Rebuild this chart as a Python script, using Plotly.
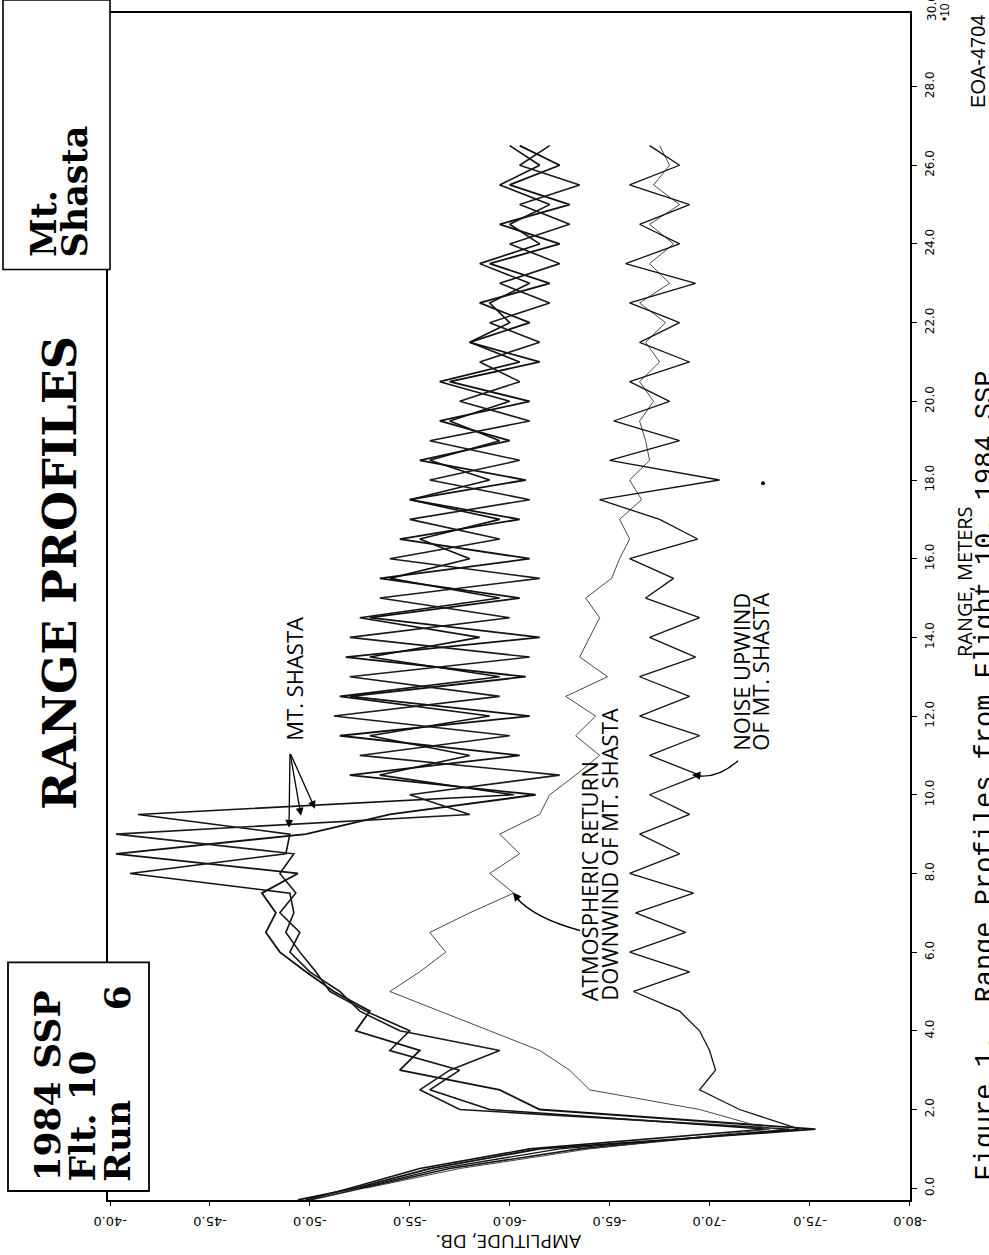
import plotly.graph_objects as go

# ---- data -------------------------------------------------------------
RANGE_M = [0.0, 0.5, 1.0, 1.5, 2.0, 2.5, 3.0, 3.5, 4.0, 4.5, 5.0, 5.5, 6.0, 6.5,
           7.0, 7.5, 8.0, 8.5, 9.0, 9.5, 10.0, 10.5, 11.0, 11.5, 12.0, 12.5, 13.0,
           13.5, 14.0, 14.5, 15.0, 15.5, 16.0, 16.5, 17.0, 17.5, 18.0, 18.5, 19.0,
           19.5, 20.0, 20.5, 21.0, 21.5, 22.0, 22.5, 23.0, 23.5, 24.0, 24.5, 25.0,
           25.5, 26.0, 26.5]
SHASTA_RANGE = [-0.3] + RANGE_M

shasta_a = [-49.4, -52.3, -56.0, -61.5, -75.3, -61.5, -59.5, -54.5, -55.5, -52.3, -53.0,
            -51.2, -49.8, -48.5, -47.8, -48.3, -47.6, -49.4, -40.3, -49.8, -54.0, -61.3,
            -52.0, -60.5, -51.5, -61.0, -52.0, -60.8, -51.8, -61.5, -53.0, -60.5, -53.5,
            -61.0, -54.5, -60.5, -55.0, -60.8, -55.5, -60.0, -56.5, -61.0, -57.0, -61.5,
            -58.0, -61.0, -58.5, -62.0, -59.0, -62.5, -59.5, -63.0, -60.0, -62.5, -60.5]
shasta_b = [-49.8, -52.0, -55.5, -61.0, -72.8, -59.0, -56.0, -57.5, -54.0, -55.0, -52.8,
            -51.0, -50.3, -49.5, -48.8, -49.2, -49.0, -41.0, -48.8, -49.0, -41.4, -60.2,
            -53.5, -58.0, -53.0, -59.0, -51.5, -59.5, -53.0, -58.5, -52.5, -59.5, -54.0,
            -58.0, -55.5, -59.5, -55.0, -59.0, -56.0, -59.5, -57.0, -60.0, -56.5, -60.5,
            -58.0, -60.0, -59.0, -61.0, -58.5, -61.5, -60.0, -62.0, -59.5, -61.5, -60.0]
shasta_c = [-50.0, -52.6, -57.0, -63.5, -74.0, -57.5, -55.5, -57.0, -59.5, -54.5, -52.5,
            -51.5, -50.0, -49.0, -49.5, -48.5, -49.3, -48.5, -49.2, -40.3, -58.0, -55.0,
            -62.5, -52.5, -60.0, -51.2, -59.5, -52.0, -61.0, -52.0, -60.0, -53.5, -61.5,
            -54.0, -59.5, -55.0, -61.0, -56.0, -60.5, -56.0, -61.0, -57.5, -60.5, -58.5,
            -61.5, -59.0, -62.0, -59.5, -62.5, -60.0, -63.0, -60.5, -63.5, -60.5, -62.0]

atmos = [-52.8, -57.5, -64.0, -73.0, -69.5, -64.0, -63.0, -61.5, -59.0, -56.5, -54.0,
         -55.5, -56.8, -56.0, -58.0, -60.2, -59.0, -60.5, -59.5, -61.5, -62.0, -63.3,
         -64.5, -63.3, -64.3, -62.8, -64.9, -63.5, -64.0, -64.5, -63.8, -65.1, -65.5,
         -66.0, -65.5, -66.6, -66.0, -67.0, -66.8, -66.5, -67.2, -66.5, -67.5, -66.8,
         -67.8, -66.5, -68.0, -67.0, -68.2, -67.0, -68.5, -67.2, -68.0, -67.5]

noise = [-52.5, -56.5, -62.5, -74.5, -71.5, -69.5, -70.3, -70.0, -69.5, -68.5, -66.2,
         -69.0, -66.0, -68.8, -66.3, -69.2, -66.0, -68.5, -66.5, -69.0, -67.0, -69.5,
         -67.0, -69.5, -66.5, -69.0, -66.5, -69.3, -67.0, -69.5, -66.8, -68.2, -66.0,
         -69.4, -67.5, -64.5, -70.5, -65.0, -68.5, -65.2, -68.0, -66.0, -69.0, -66.5,
         -68.5, -66.0, -69.3, -65.8, -68.5, -66.5, -69.0, -66.0, -68.5, -67.0]

AMP_TICKS = [-40, -45, -50, -55, -60, -65, -70, -75, -80]
AMP_LABELS = ["-40.0", "-45.0", "-50.0", "-55.0", "-60.0", "-65.0", "-70.0", "-75.0", "-80.0"]
RANGE_TICKS = [0, 2, 4, 6, 8, 10, 12, 14, 16, 18, 20, 22, 24, 26, 28]
RANGE_LABELS = ["0.0", "2.0", "4.0", "6.0", "8.0", "10.0", "12.0", "14.0", "16.0",
                "18.0", "20.0", "22.0", "24.0", "26.0", "28.0"]
RANGE_TOP_LABEL = "30.0"

# ---- page geometry (pixels) ------------------------------------------
W, H = 989, 1255
L, R, T, B = 108, 910, 11, 1200
R_MIN, R_MAX = -0.3, 29.87


def px(x):
    return (x - L) / (R - L)


def py(y):
    return (B - y) / (B - T)


def range_to_py(r):
    return (r - R_MIN) / (R_MAX - R_MIN)


fig = go.Figure()

# amplitude runs along the horizontal axis, range along the vertical one
for vals, width, color in [(shasta_a, 1.8, "#111"), (shasta_b, 1.6, "#111"),
                           (shasta_c, 1.6, "#1a1a1a")]:
    fig.add_trace(go.Scatter(x=vals, y=SHASTA_RANGE, mode="lines",
                             line=dict(color=color, width=width), hoverinfo="skip"))
fig.add_trace(go.Scatter(x=atmos, y=RANGE_M, mode="lines",
                         line=dict(color="#333", width=0.9), hoverinfo="skip"))
fig.add_trace(go.Scatter(x=noise, y=RANGE_M, mode="lines",
                         line=dict(color="#111", width=1.3), hoverinfo="skip"))

amp_font = dict(family="DejaVu Sans", size=13, color="black")
rng_font = dict(family="DejaVu Sans", size=12, color="black")
fig.update_xaxes(range=[-39.9, -80.03], tickvals=AMP_TICKS, showticklabels=False,
                 ticks="outside", ticklen=4, tickcolor="black", showline=True,
                 linecolor="black", linewidth=1.6, mirror=True, showgrid=False,
                 zeroline=False)
fig.update_yaxes(range=[R_MIN, R_MAX], tickvals=RANGE_TICKS, ticktext=RANGE_LABELS,
                 side="right", tickangle=-90, tickfont=rng_font, ticks="outside",
                 ticklen=5, tickcolor="black", ticklabelstandoff=3, showline=True,
                 linecolor="black", linewidth=1.6, mirror=True, showgrid=False,
                 zeroline=False)

shapes = []
# label boxes on the left edge
shapes.append(dict(type="rect", xref="paper", yref="paper", x0=px(3), x1=px(110),
                   y0=py(268), y1=py(-2), fillcolor="white",
                   line=dict(color="black", width=1.6), layer="above"))
shapes.append(dict(type="rect", xref="paper", yref="paper", x0=px(8), x1=px(149),
                   y0=py(1191), y1=py(962), fillcolor="white",
                   line=dict(color="black", width=1.8), layer="above"))
# small ink dot to the right of the noise trace
shapes.append(dict(type="circle", xref="paper", yref="paper", x0=px(761), x1=px(765),
                   y0=py(484), y1=py(480), fillcolor="black", line=dict(width=0)))

annotations = []
serif = "DejaVu Serif"
sans = "Open Sans"


def rot_text(text, x, y, size, family, angle=-90, bold=False, xanchor="center",
             yanchor="middle", align="left"):
    annotations.append(dict(text=f"<b>{text}</b>" if bold else text, xref="paper",
                            yref="paper", x=px(x), y=py(y), xanchor=xanchor,
                            yanchor=yanchor, showarrow=False, textangle=angle,
                            align=align, font=dict(family=family, size=size,
                                                   color="black")))


# amplitude tick labels, printed upside down under the axis
for v, lab in zip(AMP_TICKS, AMP_LABELS):
    annotations.append(dict(text=lab, xref="x", yref="paper", x=v, y=py(1221),
                            xanchor="center", yanchor="middle", showarrow=False,
                            textangle=180, font=amp_font))
# top range label sits above the frame
annotations.append(dict(text=RANGE_TOP_LABEL, xref="paper", yref="paper", x=px(932),
                        y=range_to_py(30), xanchor="center", yanchor="middle",
                        showarrow=False, textangle=-90, font=rng_font))

rot_text("RANGE PROFILES", 60, 572, 46, serif, bold=True)
rot_text("Mt.", 43, 258, 35, serif, bold=True, yanchor="bottom")
rot_text("Shasta", 75, 258, 35, serif, bold=True, yanchor="bottom")
rot_text("1984 SSP", 47, 1184, 36, serif, bold=True, yanchor="bottom")
rot_text("Flt. 10", 82, 1184, 36, serif, bold=True, yanchor="bottom")
rot_text("Run", 117, 1184, 36, serif, bold=True, yanchor="bottom")
rot_text("6", 117, 998, 36, serif, bold=True)

rot_text("MT. SHASTA", 294, 742, 22, sans, yanchor="bottom")
rot_text("ATMOSPHERIC RETURN", 589, 1003, 22, sans, yanchor="bottom")
rot_text("DOWNWIND OF MT. SHASTA", 609, 1003, 22, sans, yanchor="bottom")
rot_text("NOISE UPWIND", 741, 752, 22, sans, yanchor="bottom")
rot_text("OF MT. SHASTA", 760, 752, 22, sans, yanchor="bottom")
rot_text("RANGE, METERS", 964, 580, 20, sans)
rot_text("EOA-4704", 978, 60, 20, "Liberation Sans")
rot_text("•10", 945, 10, 12, "Liberation Sans")
rot_text("Figure 1.  Range Profiles from Flight 10, 1984 SSP", 986, 775, 27,
         "Liberation Mono")
rot_text("AMPLITUDE, DB.", 509, 1242, 19, sans, angle=180)

# arrows for the MT. SHASTA label
apex = (290, 752)
for tip in [(289, 827), (301, 815), (315, 808)]:
    annotations.append(dict(text="", xref="paper", yref="paper", x=px(tip[0]),
                            y=py(tip[1]), ax=apex[0] - tip[0], ay=apex[1] - tip[1],
                            showarrow=True, arrowhead=2, arrowsize=1.2,
                            arrowwidth=1.3, arrowcolor="black"))

# curved leader for the atmospheric label
shapes.append(dict(type="path", xref="paper", yref="paper",
                   path=f"M{px(580)},{py(930)} Q{px(535)},{py(918)} {px(516)},{py(897)}",
                   line=dict(color="black", width=1.4)))
annotations.append(dict(text="", xref="paper", yref="paper", x=px(513), y=py(892),
                        ax=8, ay=10, showarrow=True, arrowhead=2, arrowsize=1.2,
                        arrowwidth=1.4, arrowcolor="black"))
# curved leader for the noise label
shapes.append(dict(type="path", xref="paper", yref="paper",
                   path=f"M{px(738)},{py(760)} Q{px(718)},{py(778)} {px(697)},{py(775)}",
                   line=dict(color="black", width=1.4)))
annotations.append(dict(text="", xref="paper", yref="paper", x=px(692), y=py(774),
                        ax=9, ay=1, showarrow=True, arrowhead=2, arrowsize=1.2,
                        arrowwidth=1.4, arrowcolor="black"))

fig.update_layout(width=W, height=H, margin=dict(l=L, r=W - R, t=T, b=H - B),
                  paper_bgcolor="white", plot_bgcolor="white", showlegend=False,
                  shapes=shapes, annotations=annotations)

fig.write_html("out.html")
